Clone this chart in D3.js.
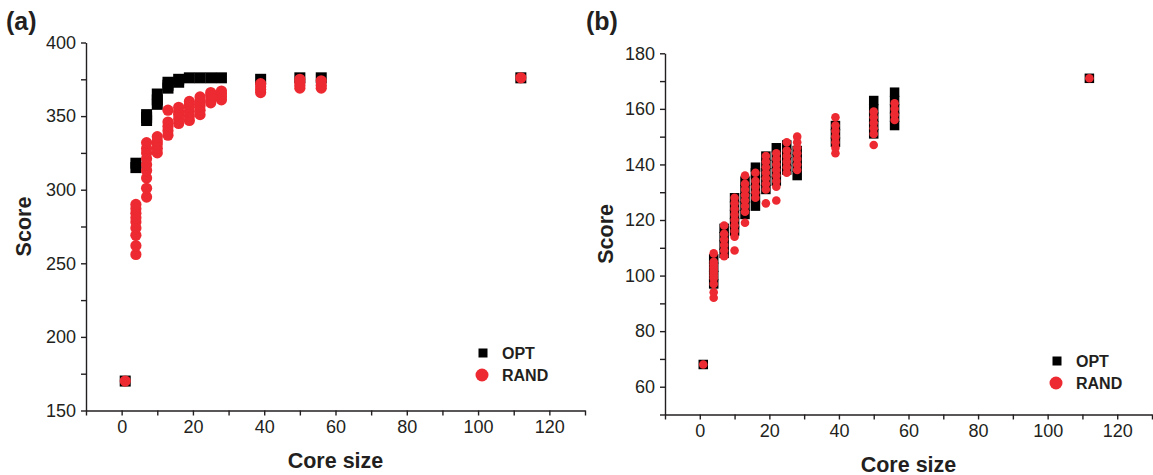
<!DOCTYPE html>
<html>
<head>
<meta charset="utf-8">
<script src="https://cdn.jsdelivr.net/npm/d3@7"></script>
<style>
body { margin: 0; background: #fff; }
svg text { font-family: "Liberation Sans", Arial, sans-serif; fill: #231f20; }
</style>
</head>
<body>
<script>
// core sizes on the x axis (same for both panels)
var coreSizes = [1, 4, 7, 10, 13, 16, 19, 22, 25, 28, 39, 50, 56, 112];

// panel (a): scores per core size
var optA = [[170], [315, 318], [347, 349, 351], [358, 361, 365], [369, 371, 373], [373, 375],
    [376], [376], [376], [376], [375], [376], [376], [376]];
var randA = [[170], [256, 262, 269, 274, 278, 281, 284, 287, 290],
    [295, 301, 308, 313, 317, 321, 325, 328, 332], [325, 328, 331, 333, 336],
    [337, 340, 343, 346, 354], [345, 348, 351, 353, 356], [347, 350, 353, 356, 358, 360],
    [351, 354, 357, 360, 363], [359, 361, 364, 366], [361, 363, 365, 367],
    [366, 368, 370, 372], [369, 371, 373, 375], [369, 371, 374], [376]];

// panel (b): scores per core size
var optB = [[68], [97, 100, 103, 106], [108, 111, 114, 117], [116, 119, 122, 125, 128],
    [122, 125, 128, 131, 134], [125, 128, 131, 134, 137, 139], [131, 134, 137, 140, 143],
    [134, 137, 140, 143, 146], [138, 141, 144, 147], [136, 139, 142, 145],
    [148, 151, 154], [151, 154, 157, 160, 163], [154, 157, 160, 163, 166], [171]];
var randB = [[68], [92, 94, 97, 99, 100, 101, 102, 103, 104, 105, 108],
    [107, 109, 111, 113, 115, 118], [109, 114, 116, 118, 120, 122, 124, 126, 128],
    [119, 123, 125, 127, 129, 131, 133, 136], [128, 130, 132, 134, 137],
    [126, 131, 133, 135, 137, 139, 141, 143], [127, 132, 134, 136, 138, 140, 142, 144],
    [137, 139, 141, 143, 145, 148], [138, 140, 142, 144, 146, 148, 150],
    [144, 146, 148, 150, 152, 154, 157], [147, 151, 153, 155, 157, 159],
    [156, 158, 160, 162], [171]];

// ticks
var xTicks = d3.range(-10, 131, 10);
var xLabels = [0, 20, 40, 60, 80, 100, 120];
var yTicksA = d3.range(150, 401, 25);
var yLabelsA = [150, 200, 250, 300, 350, 400];
var yTicksB = d3.range(50, 181, 10);
var yLabelsB = [60, 80, 100, 120, 140, 160, 180];

var seriesNames = ["OPT", "RAND"];
var red = "#ed2a31";

var svg = d3.select("body").append("svg")
    .attr("width", 1153)
    .attr("height", 475);

// flatten [[scores]] into points
function toPoints(lists) {
    var pts = [];
    lists.forEach(function(list, i) {
        list.forEach(function(v) { pts.push({x: coreSizes[i], y: v}); });
    });
    return pts;
}

function drawPanel(p) {
    var x = d3.scaleLinear().domain([-10, 130]).range(p.xRange);
    var y = d3.scaleLinear().domain(p.yDomain).range(p.yRange);
    var g = svg.append("g");

    var xAxis = d3.axisBottom(x).tickValues(xTicks).tickSize(5).tickSizeOuter(0).tickPadding(5)
        .tickFormat(function(d) { return xLabels.indexOf(d) >= 0 ? d : ""; });
    var yAxis = d3.axisLeft(y).tickValues(p.yTicks).tickSize(5).tickSizeOuter(0).tickPadding(5)
        .tickFormat(function(d) { return p.yLabels.indexOf(d) >= 0 ? d : ""; });

    g.append("g")
        .attr("transform", "translate(0," + p.yRange[0] + ")")
        .call(xAxis);
    g.append("g")
        .attr("transform", "translate(" + p.xRange[0] + ",0)")
        .call(yAxis);
    g.selectAll(".domain, .tick line").attr("stroke", "#231f20").attr("stroke-width", 1.4);
    g.selectAll(".tick text").style("font-size", "18px").attr("fill", "#231f20");

    // OPT squares underneath
    g.append("g").selectAll("rect")
        .data(toPoints(p.opt))
        .enter().append("rect")
        .attr("x", function(d) { return x(d.x) - p.sq / 2; })
        .attr("y", function(d) { return y(d.y) - p.sq / 2; })
        .attr("width", p.sq)
        .attr("height", p.sq)
        .attr("fill", "#000");

    // RAND circles on top
    g.append("g").selectAll("circle")
        .data(toPoints(p.rand))
        .enter().append("circle")
        .attr("cx", function(d) { return x(d.x); })
        .attr("cy", function(d) { return y(d.y); })
        .attr("r", p.r)
        .attr("fill", red);

    // axis titles
    g.append("text")
        .attr("x", (p.xRange[0] + p.xRange[1]) / 2)
        .attr("y", p.yRange[0] + 57)
        .attr("text-anchor", "middle")
        .style("font-size", "21.5px").style("font-weight", "bold")
        .text("Core size");
    g.append("text")
        .attr("transform", "translate(" + p.titleX + "," + (p.yRange[0] + p.yRange[1]) / 2 + ") rotate(-90)")
        .attr("text-anchor", "middle")
        .style("font-size", "21.5px").style("font-weight", "bold")
        .text("Score");

    // panel letter
    g.append("text")
        .attr("x", p.letterX).attr("y", 30)
        .style("font-size", "25px").style("font-weight", "bold")
        .text(p.letter);

    // legend
    var lg = g.append("g").attr("transform", "translate(" + p.legend[0] + "," + p.legend[1] + ")");
    lg.append("rect").attr("x", -4.5).attr("y", -4.5).attr("width", 9).attr("height", 9).attr("fill", "#000");
    lg.append("circle").attr("cx", -1).attr("cy", 22).attr("r", 6.5).attr("fill", red);
    lg.selectAll("text").data(seriesNames).enter().append("text")
        .attr("x", 19)
        .attr("y", function(d, i) { return 6 + i * 22; })
        .style("font-size", "16px").style("font-weight", "bold")
        .text(function(d) { return d; });
}

drawPanel({
    letter: "(a)", letterX: 6, titleX: 31,
    xRange: [86, 585], yDomain: [150, 400], yRange: [410.5, 42.5],
    yTicks: yTicksA, yLabels: yLabelsA,
    opt: optA, rand: randA, sq: 11, r: 5.6,
    legend: [483, 353]
});

drawPanel({
    letter: "(b)", letterX: 586, titleX: 613,
    xRange: [665, 1152], yDomain: [50, 180], yRange: [414.5, 53.3],
    yTicks: yTicksB, yLabels: yLabelsB,
    opt: optB, rand: randB, sq: 9.5, r: 4.3,
    legend: [1057, 361]
});
</script>
</body>
</html>
